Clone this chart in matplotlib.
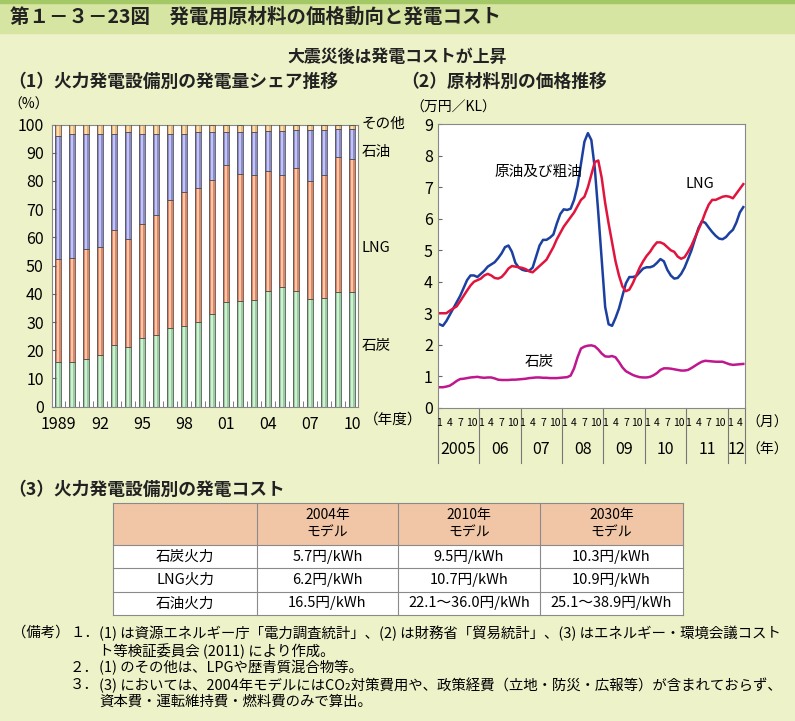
import numpy as np
import matplotlib
matplotlib.use("Agg")
import matplotlib.pyplot as plt
from matplotlib.patches import Rectangle
from matplotlib.lines import Line2D

plt.rcParams['font.family'] = ['Noto Sans CJK JP', 'DejaVu Sans']

BG, BAND, BAND_LINE = "#eef2c8", "#d7e5a2", "#a3c865"

# (1) generation share by fuel, fiscal years 1989-2010 (%)
years = list(range(1989, 2011))
year_labels = ["1989", "92", "95", "98", "01", "04", "07", "10"]
coal = [16.0, 16.0, 17.0, 18.3, 21.9, 21.2, 24.4, 25.4, 28.0, 28.6, 30.0,
        33.0, 37.1, 37.5, 37.9, 41.1, 42.5, 41.1, 38.3, 38.6, 40.5, 40.5]
lng = [36.4, 36.7, 39.0, 38.2, 40.7, 38.2, 40.4, 42.4, 45.1, 47.5, 47.5,
       47.5, 48.4, 45.1, 44.3, 42.5, 39.5, 43.4, 41.6, 43.4, 47.9, 47.4]
oil = [43.5, 43.8, 40.5, 40.0, 34.1, 37.8, 31.9, 28.9, 23.7, 20.7, 19.7,
       16.8, 11.8, 14.7, 15.2, 14.0, 15.6, 13.4, 18.1, 16.0, 10.0, 10.5]
other = [4.1, 3.5, 3.5, 3.5, 3.3, 2.8, 3.3, 3.3, 3.2, 3.2, 2.8,
         2.7, 2.7, 2.7, 2.6, 2.4, 2.4, 2.1, 2.0, 2.0, 1.6, 1.6]

# (2) monthly prices Jan 2005 - May 2012 (万円/KL)
crude = [2.65, 2.60, 2.75, 2.95, 3.15, 3.35, 3.55, 3.80, 4.05, 4.20, 4.20, 4.15,
         4.25, 4.35, 4.48, 4.55, 4.62, 4.75, 4.90, 5.10, 5.15, 4.95, 4.60, 4.45,
         4.38, 4.35, 4.35, 4.45, 4.80, 5.15, 5.33, 5.33, 5.40, 5.50, 5.85, 6.15,
         6.30, 6.28, 6.32, 6.60, 7.05, 7.75, 8.45, 8.72, 8.50, 7.60, 6.20, 4.70,
         3.20, 2.65, 2.60, 2.85, 3.15, 3.55, 3.95, 4.15, 4.15, 4.18, 4.30, 4.42,
         4.46, 4.46, 4.50, 4.60, 4.72, 4.65, 4.38, 4.20, 4.10, 4.12, 4.25, 4.45,
         4.72, 5.00, 5.35, 5.70, 5.92, 5.87, 5.72, 5.58, 5.46, 5.37, 5.35, 5.42,
         5.55, 5.65, 5.88, 6.20, 6.37]
lng_price = [3.00, 3.00, 3.00, 3.08, 3.15, 3.22, 3.38, 3.55, 3.72, 3.88, 4.00, 4.05,
             4.10, 4.20, 4.25, 4.20, 4.12, 4.10, 4.15, 4.27, 4.42, 4.50, 4.48, 4.46,
             4.44, 4.40, 4.33, 4.30, 4.40, 4.50, 4.60, 4.70, 4.90, 5.10, 5.35, 5.55,
             5.75, 5.90, 6.05, 6.20, 6.40, 6.60, 6.70, 7.00, 7.40, 7.80, 7.85, 7.30,
             6.50, 5.85, 5.25, 4.65, 4.20, 3.85, 3.70, 3.75, 3.95, 4.20, 4.45, 4.65,
             4.82, 4.95, 5.12, 5.25, 5.25, 5.20, 5.10, 5.00, 4.95, 4.80, 4.73, 4.78,
             4.95, 5.15, 5.40, 5.65, 5.90, 6.20, 6.45, 6.60, 6.60, 6.65, 6.70, 6.72,
             6.70, 6.65, 6.80, 6.95, 7.10]
coal_price = [0.65, 0.65, 0.67, 0.70, 0.77, 0.85, 0.91, 0.92, 0.94, 0.96, 0.97, 0.98,
              0.96, 0.95, 0.96, 0.96, 0.93, 0.89, 0.88, 0.88, 0.88, 0.89, 0.89, 0.90,
              0.91, 0.92, 0.94, 0.95, 0.96, 0.96, 0.95, 0.95, 0.94, 0.94, 0.94, 0.95,
              0.96, 0.97, 1.02, 1.25, 1.60, 1.88, 1.94, 1.97, 1.98, 1.95, 1.85, 1.72,
              1.63, 1.62, 1.64, 1.60, 1.45, 1.28, 1.16, 1.10, 1.04, 1.00, 0.97, 0.96,
              0.96, 0.98, 1.03, 1.10, 1.20, 1.25, 1.25, 1.24, 1.22, 1.20, 1.18, 1.18,
              1.20, 1.26, 1.33, 1.40, 1.46, 1.49, 1.48, 1.47, 1.46, 1.46, 1.46, 1.42,
              1.38, 1.36, 1.37, 1.38, 1.39]
price_years = ["2005", "06", "07", "08", "09", "10", "11", "12"]

# (3) generation cost table
cost_header = ["", "2004年\nモデル", "2010年\nモデル", "2030年\nモデル"]
cost_rows = [["石炭火力", "5.7円/kWh", "9.5円/kWh", "10.3円/kWh"],
             ["LNG火力", "6.2円/kWh", "10.7円/kWh", "10.9円/kWh"],
             ["石油火力", "16.5円/kWh", "22.1～36.0円/kWh", "25.1～38.9円/kWh"]]

notes = [
    ("１．", "(1) は資源エネルギー庁「電力調査統計」、(2) は財務省「貿易統計」、(3) はエネルギー・環境会議コスト"),
    ("", "ト等検証委員会 (2011) により作成。"),
    ("２．", "(1) のその他は、LPGや歴青質混合物等。"),
    ("３．", "(3) においては、2004年モデルにはCO₂対策費用や、政策経費（立地・防災・広報等）が含まれておらず、"),
    ("", "資本費・運転維持費・燃料費のみで算出。"),
]

fig = plt.figure(figsize=(7.95, 7.21), dpi=100, facecolor=BG)

# header band
fig.patches.append(Rectangle((0, 1 - 33 / 721), 1, 33 / 721, transform=fig.transFigure,
                             color=BAND, zorder=0))
fig.patches.append(Rectangle((0, 1 - 3 / 721), 1, 3 / 721, transform=fig.transFigure,
                             color=BAND_LINE, zorder=0))
fig.text(0.012, 1 - 17 / 721, "第１－３－23図　発電用原材料の価格動向と発電コスト",
         fontsize=14, fontweight="bold", va="center", color="#222")
fig.text(0.5, 1 - 57 / 721, "大震災後は発電コストが上昇", fontsize=12.2,
         fontweight="bold", ha="center", va="center", color="#222")
fig.text(0.010, 1 - 82 / 721, "（1）火力発電設備別の発電量シェア推移", fontsize=12.8,
         fontweight="bold", va="center", color="#222")
fig.text(0.505, 1 - 82 / 721, "（2）原材料別の価格推移", fontsize=12.8,
         fontweight="bold", va="center", color="#222")

# ---- (1) stacked bars
ax1 = fig.add_axes([52 / 795, 1 - 406.7 / 721, 306 / 795, 282.2 / 721])
ax1.set_facecolor("white")
x = np.arange(len(years))
segs = [(coal, "#96d09e", "#d4eed6"), (lng, "#e8845c", "#f8c9b2"),
        (oil, "#8a8ad0", "#c4c4ee"), (other, "#f0b674", "#fde0ba")]
bottom = np.zeros(len(years))
for vals, main, light in segs:
    v = np.array(vals)
    ax1.bar(x, v, 0.42, bottom=bottom, color=main, lw=0, zorder=1)
    ax1.bar(x, v, 0.14, bottom=bottom, color=light, lw=0, zorder=2)
    ax1.bar(x, v, 0.42, bottom=bottom, facecolor="none", edgecolor="#555", lw=0.6, zorder=3)
    bottom += v
ax1.set_xlim(-0.45, 21.4)
ax1.set_ylim(0, 100)
ax1.set_yticks(range(0, 101, 10))
ax1.set_xticks(x[::3])
ax1.set_xticklabels(year_labels)
ax1.set_xticks(x[:-1] + 0.5, minor=True)
ax1.tick_params(axis="x", which="major", length=0, labelsize=11.5, pad=7)
ax1.tick_params(axis="x", which="minor", direction="in", length=4, color="#666")
ax1.tick_params(axis="y", direction="in", length=3, labelsize=11.5, color="#666", pad=6)
for s in ax1.spines.values():
    s.set_color("#888")
ax1.text(1.02, -0.047, "（年度）", transform=ax1.transAxes, fontsize=10.5, va="center")
ax1.text(-0.075, 1.069, "（%）", transform=ax1.transAxes, fontsize=10, ha="center", va="center")
for lab, yy in [("その他", 1.002), ("石油", 0.902), ("LNG", 0.562), ("石炭", 0.215)]:
    ax1.text(1.013, yy, lab, transform=ax1.transAxes, fontsize=10.5, va="center")

# ---- (2) price lines
ax2 = fig.add_axes([437.7 / 795, 1 - 407.7 / 721, 307.3 / 795, 283.4 / 721])
ax2.set_facecolor("white")
m = np.arange(len(crude))
ax2.plot(m, crude, color="#1c40a0", lw=1.8)
ax2.plot(m, lng_price, color="#e0143c", lw=1.8)
ax2.plot(m, coal_price, color="#c0168e", lw=1.8)
ax2.set_xlim(-0.5, 88.5)
ax2.set_ylim(0, 9)
ax2.set_yticks(range(0, 10))
ax2.set_xticks([])
ax2.tick_params(axis="y", direction="in", length=3, labelsize=11.5, color="#666")
for s in ax2.spines.values():
    s.set_color("#888")
ax2.text(16, 7.48, "原油及び粗油", fontsize=10.5, va="center")
ax2.text(71.3, 7.1, "LNG", fontsize=10.5, va="center")
ax2.text(24.7, 1.45, "石炭", fontsize=10.5, va="center")
ax2.text(0.05, 1.057, "（万円／KL）", transform=ax2.transAxes, fontsize=10, ha="center", va="center")

tr = ax2.get_xaxis_transform()
for k, lab in enumerate(price_years):
    start = k * 12 - 0.5
    end = min(start + 12, 88.5)
    ax2.add_line(Line2D([start, start], [0, -0.195], transform=tr, color="#777",
                        lw=0.8, clip_on=False))
    ax2.text((start + end) / 2, -0.149, lab, transform=tr, fontsize=11.5,
             ha="center", va="center")
    for j, mon in enumerate(["1", "4", "7", "10"]):
        pos = k * 12 + j * 3
        if pos <= 88:
            ax2.text(pos + (0.3 if mon == "10" else 0), -0.054, mon, transform=tr,
                     fontsize=7.5, ha="center", va="center")
ax2.add_line(Line2D([88.5, 88.5], [0, -0.195], transform=tr, color="#777",
                    lw=0.8, clip_on=False))
ax2.text(1.004, -0.054, "（月）", transform=ax2.transAxes, fontsize=10, va="center")
ax2.text(1.004, -0.149, "（年）", transform=ax2.transAxes, fontsize=10, va="center")

# ---- (3) cost table
fig.text(0.010, 1 - 490 / 721, "（3）火力発電設備別の発電コスト", fontsize=12.8,
         fontweight="bold", va="center", color="#222")
ax3 = fig.add_axes([113 / 795, 1 - 615 / 721, 570 / 795, 112 / 721])
ax3.set_xlim(0, 570)
ax3.set_ylim(112, 0)
ax3.axis("off")
col_w = [144, 141, 142, 143]
row_h = [42, 23.3, 23.3, 23.4]
col_x = np.concatenate([[0], np.cumsum(col_w)])
row_y = np.concatenate([[0], np.cumsum(row_h)])
ax3.add_patch(Rectangle((0, 0), 570, row_h[0], color="#f1c6a6", lw=0))
ax3.add_patch(Rectangle((0, row_y[1]), 570, 112 - row_y[1], color="white", lw=0))
for cx in col_x:
    ax3.plot([cx, cx], [0, 112], color="#8a8a8a", lw=0.8, clip_on=False)
for ry in row_y:
    ax3.plot([0, 570], [ry, ry], color="#8a8a8a", lw=0.8, clip_on=False)
for c, h in enumerate(cost_header):
    ax3.text((col_x[c] + col_x[c + 1]) / 2, row_h[0] / 2, h, ha="center", va="center",
             fontsize=10, linespacing=1.35)
for r, row in enumerate(cost_rows):
    for c, val in enumerate(row):
        ax3.text((col_x[c] + col_x[c + 1]) / 2, (row_y[r + 1] + row_y[r + 2]) / 2, val,
                 ha="center", va="center", fontsize=10.5)

# ---- notes
note_y = [633, 651, 668, 685, 702]
fig.text(12 / 795, 1 - note_y[0] / 721, "（備考）", fontsize=10.4, va="center")
for (head, body), yy in zip(notes, note_y):
    if head:
        fig.text(70 / 795, 1 - yy / 721, head, fontsize=10.4, va="center")
    fig.text(99 / 795, 1 - yy / 721, body, fontsize=10.4, va="center")

fig.savefig("out.png", dpi=100, facecolor=BG)
